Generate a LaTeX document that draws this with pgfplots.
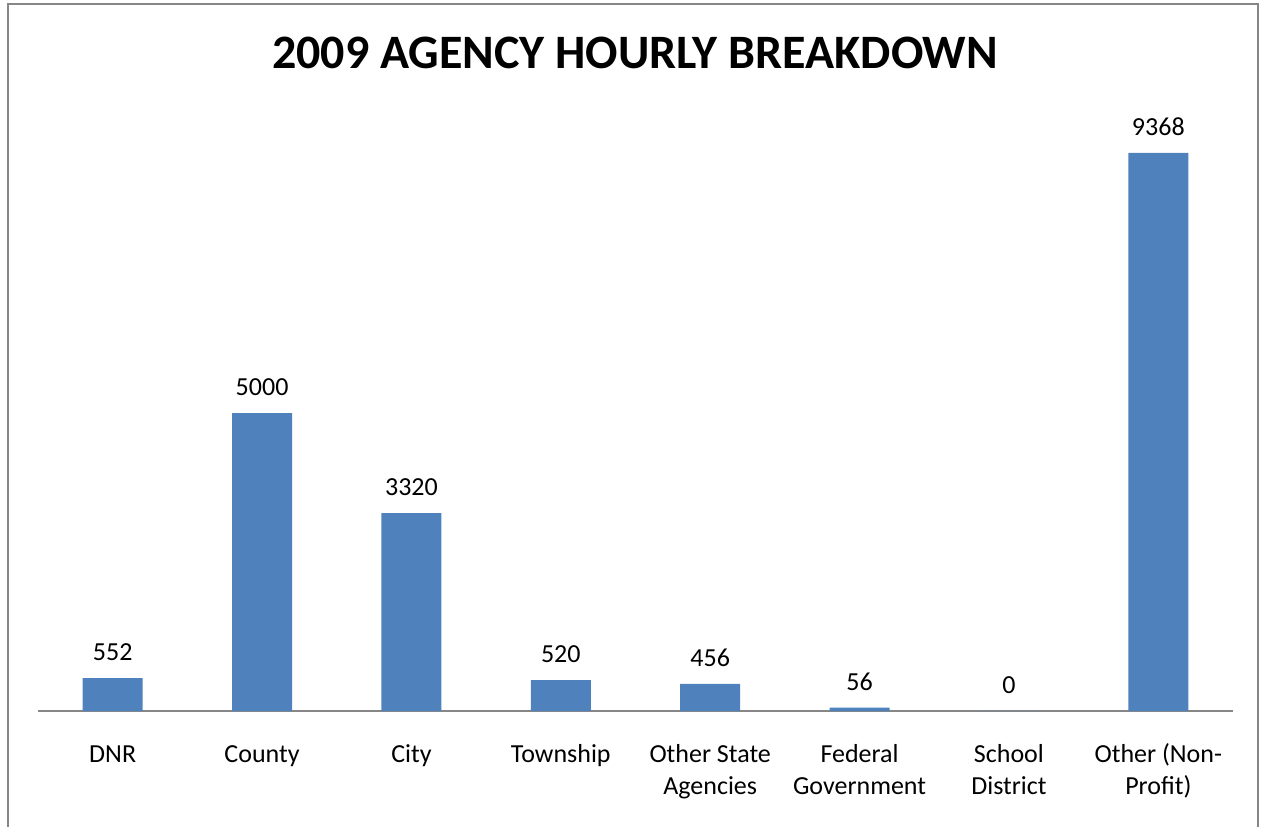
\documentclass[border=0pt]{standalone}
\usepackage{pgfplots}
\pgfplotsset{compat=1.18}
\usepackage{fontspec}
\setmainfont{Carlito}
\definecolor{barblue}{HTML}{4F81BD}
\definecolor{framegray}{HTML}{878787}

\begin{document}
\begin{tikzpicture}
\useasboundingbox (0,0) rectangle (631pt,413pt);
% outer chart frame (bottom edge is cut off in the original)
\draw[framegray, line width=0.8pt] (4pt,-2pt) -- (4pt,411pt) -- (629pt,411pt) -- (629pt,-2pt);
\node[font=\fontsize{24}{28}\selectfont\bfseries] at (317.5pt,386.5pt) {2009 AGENCY HOURLY BREAKDOWN};
\begin{axis}[
    at={(19pt,57.5pt)}, anchor=south west,
    scale only axis,
    width=597.5pt, height=297.9pt,
    xmin=-0.5, xmax=7.5,
    ymin=0, ymax=10000,
    ybar, bar width=30pt,
    axis x line*=bottom,
    axis y line=none,
    x axis line style={framegray, line width=0.8pt, -},
    xtick={0,...,7},
    xtick style={draw=none},
    xticklabels={DNR, County, City, Township, Other State\\Agencies,
                 Federal\\Government, School\\District, Other (Non-\\Profit)},
    typeset ticklabels with strut,
    xticklabel style={align=center, anchor=north, yshift=-6.5pt,
                      font=\fontsize{13}{16}\selectfont},
    nodes near coords,
    /pgf/number format/assume math mode=true,
    /pgf/number format/1000 sep={},
    every node near coord/.append style={font=\fontsize{13}{16}\selectfont,
                                         anchor=south, yshift=5pt},
    clip=false,
]
\addplot[fill=barblue, draw=none] coordinates {
    (0,552) (1,5000) (2,3320) (3,520) (4,456) (5,56) (6,0) (7,9368)
};
\end{axis}
\end{tikzpicture}
\end{document}
